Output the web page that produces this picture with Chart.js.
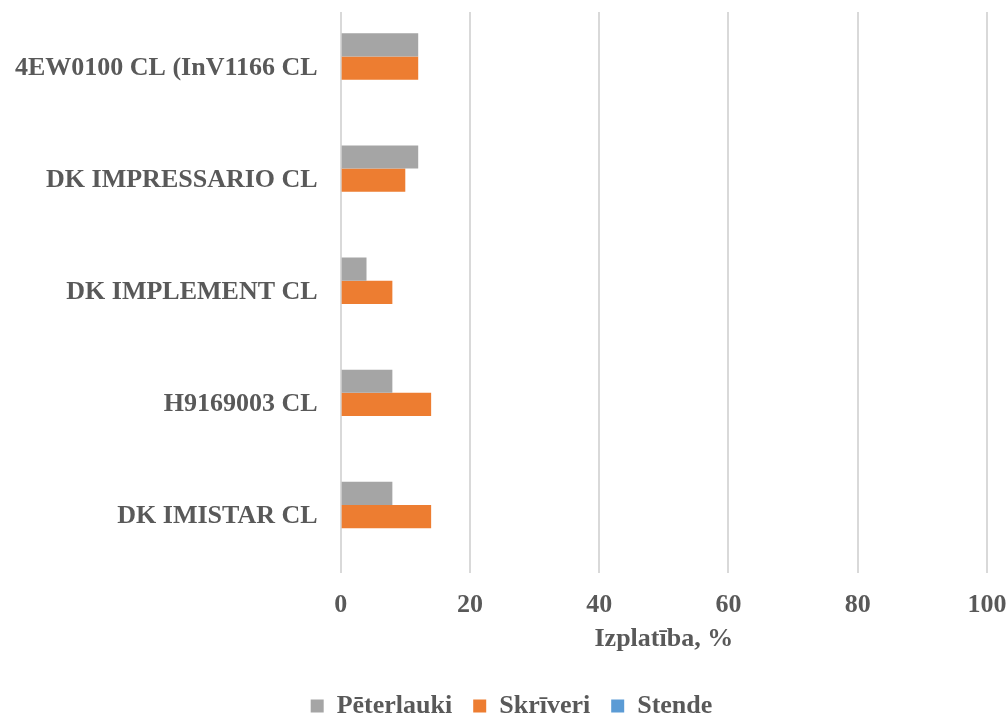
<!DOCTYPE html>
<html>
<head>
<meta charset="utf-8">
<script src="https://cdn.jsdelivr.net/npm/chart.js@4"></script>
<style>
  html, body { margin: 0; padding: 0; background: #fff; overflow: hidden; }
  #wrap { width: 1008px; height: 714px; }
</style>
</head>
<body>
<div id="wrap"><canvas id="dist-chart" width="1008" height="714"></canvas></div>
<script>
const varieties = [
    '4EW0100 CL (InV1166 CL',
    'DK IMPRESSARIO CL',
    'DK IMPLEMENT CL',
    'H9169003 CL',
    'DK IMISTAR CL',
];
const peterlauki = [12, 12, 4, 8, 8];
const skriveri = [12, 10, 8, 14, 14];
const stende = [0, 0, 0, 0, 0];
const xTicks = [0, 20, 40, 60, 80, 100];

const textColor = '#595959';
const serif = 'Liberation Serif, Times New Roman, serif';
const boldFont = { family: serif, size: 26, weight: 'bold' };

const distCanvas = document.getElementById('dist-chart');
const distConfig = {
    type: 'bar',
    data: {
        labels: varieties,
        datasets: [{
            label: 'Pēterlauki',
            backgroundColor: '#A5A5A5',
            data: peterlauki,
        }, {
            label: 'Skrīveri',
            backgroundColor: '#ED7D31',
            data: skriveri,
        }, {
            label: 'Stende',
            backgroundColor: '#5B9BD5',
            data: stende,
        }]
    },
    options: {
        indexAxis: 'y',
        responsive: false,
        animation: false,
        categoryPercentage: 0.62,
        barPercentage: 1,
        layout: {
            padding: { top: 12, left: 15, right: 0, bottom: -15 }
        },
        scales: {
            x: {
                min: 0,
                max: 100,
                afterBuildTicks: (axis) => {
                    axis.ticks = xTicks.map(v => ({ value: v }));
                },
                afterFit: (axis) => {
                    // tick padding is counted twice by default
                    axis.height -= 14;
                    axis.paddingLeft = 0;
                    axis.paddingRight = 21;
                },
                grid: {
                    color: '#D9D9D9',
                    lineWidth: 2,
                    drawTicks: false,
                },
                border: { display: false },
                ticks: {
                    color: textColor,
                    padding: 17,
                    font: boldFont,
                },
                title: {
                    display: true,
                    text: 'Izplatība, %',
                    color: textColor,
                    padding: { top: 0, bottom: 17 },
                    font: boldFont,
                },
            },
            y: {
                afterFit: (axis) => {
                    axis.width -= 23;
                    axis.paddingTop = 0;
                    axis.paddingBottom = 0;
                },
                grid: { display: false, drawTicks: false },
                border: { display: false },
                ticks: {
                    color: textColor,
                    padding: 23,
                    font: boldFont,
                },
            },
        },
        plugins: {
            legend: {
                position: 'bottom',
                labels: {
                    color: textColor,
                    boxWidth: 13,
                    boxHeight: 13,
                    padding: 21,
                    font: boldFont,
                },
            },
            tooltip: { enabled: false },
        },
    },
};

const distChart = new Chart(distCanvas, distConfig);
</script>
</body>
</html>
